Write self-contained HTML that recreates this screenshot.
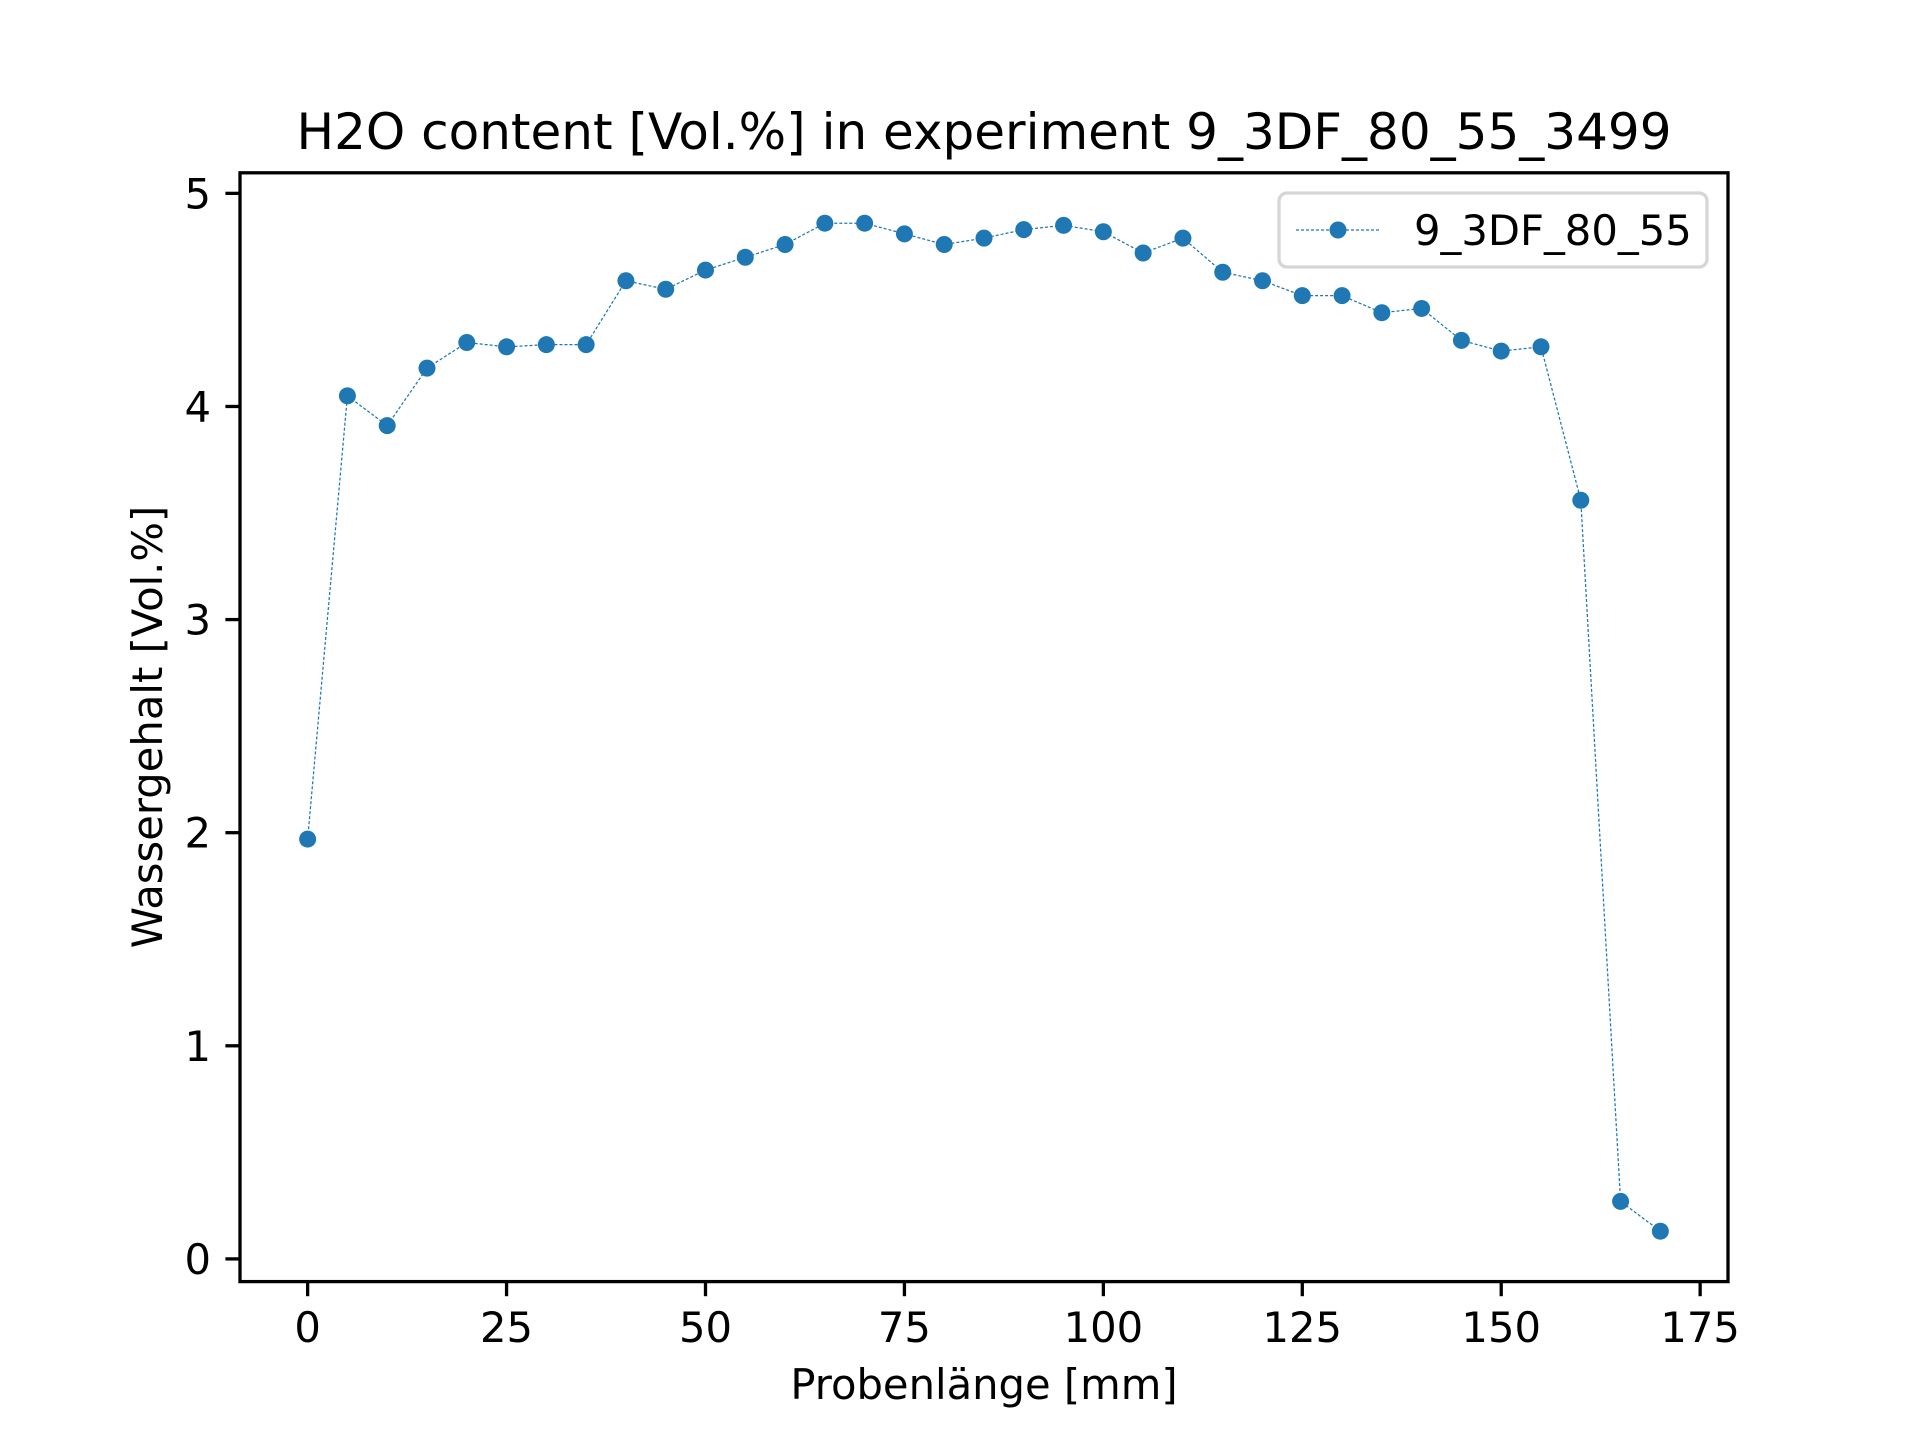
<!DOCTYPE html>
<html><head><meta charset="utf-8"><style>body{margin:0;background:#fff}svg{display:block}text{font-family:"DejaVu Sans","Liberation Sans",sans-serif;fill:#000}</style></head>
<body>
<svg id="chart" width="1920" height="1440" viewBox="0 0 1920 1440" xmlns="http://www.w3.org/2000/svg"></svg>
<script>
const xValues=[0,5,10,15,20,25,30,35,40,45,50,55,60,65,70,75,80,85,90,95,100,105,110,115,120,125,130,135,140,145,150,155,160,165,170];
const yValues=[1.97,4.05,3.91,4.18,4.30,4.28,4.29,4.29,4.59,4.55,4.64,4.70,4.76,4.86,4.86,4.81,4.76,4.79,4.83,4.85,4.82,4.72,4.79,4.63,4.59,4.52,4.52,4.44,4.46,4.31,4.26,4.28,3.56,0.27,0.13];
const xTicks=[0,25,50,75,100,125,150,175];
const yTicks=[0,1,2,3,4,5];
const seriesName="9_3DF_80_55";
const L=240,R=1728,T=172.8,B=1281.6;
const xmin=-8.5,xmax=178.5;
const ylo=Math.min(...yValues),yhi=Math.max(...yValues),ym=(yhi-ylo)*0.05;
const ymin=ylo-ym,ymax=yhi+ym;
const sx=v=>L+(v-xmin)/(xmax-xmin)*(R-L);
const sy=v=>B-(v-ymin)/(ymax-ymin)*(B-T);
const svg=document.getElementById('chart');const NS='http://www.w3.org/2000/svg';
function mk(t,a,p){const e=document.createElementNS(NS,t);for(const k in a)e.setAttribute(k,a[k]);(p||svg).appendChild(e);return e;}
let t=mk('text',{x:984,y:149,'text-anchor':'middle','font-size':50});t.textContent='H2O content [Vol.%] in experiment 9_3DF_80_55_3499';


xTicks.forEach(v=>{const x=sx(v);
const l=mk('line',{x1:x,x2:x,y1:B,y2:B+14.6,stroke:'#000','stroke-width':3.3});


const tx=mk('text',{x:x,y:1342,'text-anchor':'middle','font-size':41.7});tx.textContent=v;

});
yTicks.forEach(v=>{const y=sy(v);
const l=mk('line',{x1:L-14.6,x2:L,y1:y,y2:y,stroke:'#000','stroke-width':3.3});


const tx=mk('text',{x:L-29,y:y+15,'text-anchor':'end','font-size':41.7});tx.textContent=v;

});
t=mk('text',{x:984,y:1399,'text-anchor':'middle','font-size':41.7});t.textContent='Probenlänge [mm]';


t=mk('text',{x:162,y:727,'text-anchor':'middle','font-size':41.7,transform:'rotate(-90 162 727)'});t.textContent='Wassergehalt [Vol.%]';


const pts=xValues.map((x,i)=>sx(x)+','+sy(yValues[i])).join(' ');
const pl=mk('polyline',{points:pts,fill:'none',stroke:'#1f77b4','stroke-width':1.25,'stroke-dasharray':'3,2'});


xValues.forEach((x,i)=>{const c=mk('circle',{cx:sx(x),cy:sy(yValues[i]),r:8.5,fill:'#1f77b4'});

});
const fr=mk('rect',{x:L,y:T,width:R-L,height:B-T,fill:'none',stroke:'#000','stroke-width':3.3});


const lg=mk('g',{});


mk('rect',{x:1279,y:193,width:428,height:74,rx:8,fill:'#fff',stroke:'#d6d6d6','stroke-width':3.3},lg);
mk('line',{x1:1296,x2:1379,y1:230,y2:230,stroke:'#1f77b4','stroke-width':1.25,'stroke-dasharray':'3,2'},lg);
mk('circle',{cx:1338,cy:230,r:8.5,fill:'#1f77b4'},lg);
const lt=mk('text',{x:1414,y:245,'font-size':41.7},lg);lt.textContent=seriesName;


</script>
</body></html>
